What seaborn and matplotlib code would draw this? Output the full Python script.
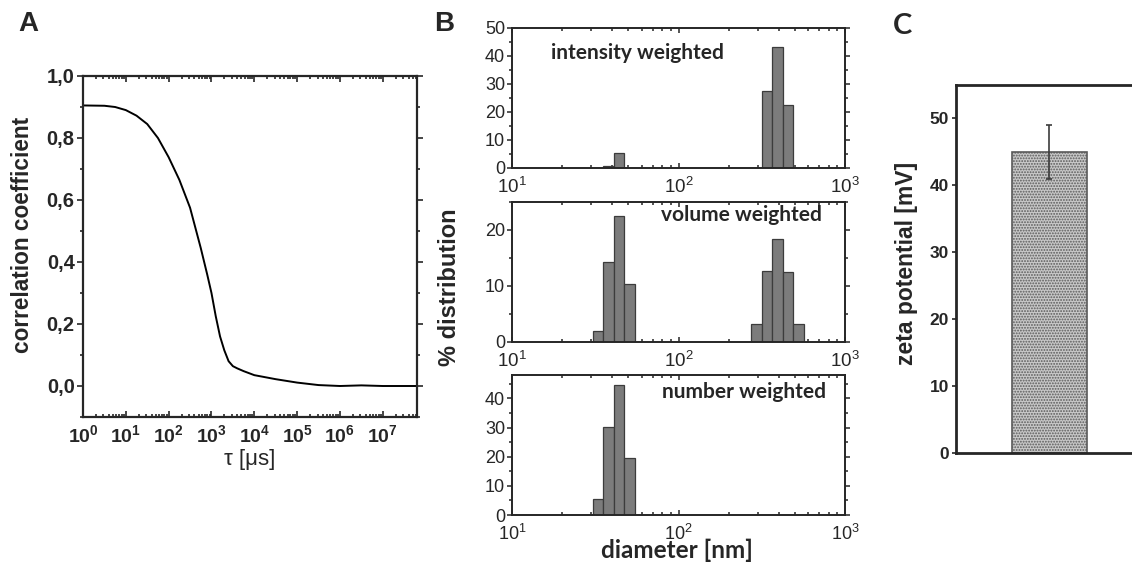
import numpy as np
import pandas as pd
import matplotlib
matplotlib.use("Agg")
import matplotlib.pyplot as plt
import matplotlib.ticker as mticker
import seaborn as sns

# ---- A: correlation function (lag time as decade exponent, coefficient) ----
log_tau_us = [0, 0.5, 0.75, 1.0, 1.25, 1.5, 1.75, 2.0, 2.25, 2.5, 2.75, 2.9, 3.0, 3.1,
              3.2, 3.3, 3.4, 3.5, 3.6, 3.75, 4.0, 4.5, 5.0, 5.5, 6.0, 6.5, 7.0, 7.8]
corr = [0.905, 0.904, 0.900, 0.890, 0.872, 0.845, 0.800, 0.738, 0.665, 0.575, 0.445,
        0.360, 0.300, 0.225, 0.160, 0.115, 0.080, 0.064, 0.057, 0.048, 0.035, 0.022,
        0.011, 0.003, 0.0, 0.002, 0.0, 0.0]
tau_us = [10 ** e for e in log_tau_us]

# ---- B: size distributions (bin centers in nm, % per bin) ----
diam_nm = [32.8, 38.0, 43.9, 50.8, 294, 340, 394, 456, 527]
intensity_pct = [0, 0.6, 5.4, 0, 0, 27.6, 43.1, 22.6, 0]
volume_pct = [1.9, 14.2, 22.5, 10.4, 3.3, 12.7, 18.4, 12.5, 3.3]
number_pct = [5.4, 30.3, 44.6, 19.6, 0, 0, 0, 0, 0]
# log10 bin edges of the instrument
bin_edges_log = [float(v) for v in np.arange(1.4205, 2.80, 0.0635)]

# ---- C: zeta potential ----
samples = ["NP"]
zeta_mv = [45.0]
zeta_err = [4.0]

sns.set_theme(style="ticks")
plt.rcParams['font.family'] = ['Liberation Sans', 'DejaVu Sans']
plt.rcParams['mathtext.fontset'] = 'custom'
plt.rcParams['mathtext.rm'] = 'Liberation Sans'
plt.rcParams['mathtext.bf'] = 'Liberation Sans:bold'
plt.rcParams['hatch.linewidth'] = 0.9

W, H = 1132, 564
fig = plt.figure(figsize=(W / 100, H / 100), dpi=100)


def px_axes(left, top, right, bottom):
    return fig.add_axes([left / W, 1 - bottom / H, (right - left) / W, (bottom - top) / H])


# ---------------- Panel A ----------------
axA = px_axes(83, 76, 417, 417)
sns.lineplot(x=tau_us, y=corr, ax=axA, color='black', lw=1.4, sort=True)
axA.set_xscale('log')
axA.set_xlim(1, 6.3e7)
axA.set_ylim(-0.1, 1.0)
axA.xaxis.set_major_locator(mticker.LogLocator(base=10, numticks=20))
axA.xaxis.set_minor_locator(mticker.LogLocator(base=10, subs=np.arange(2, 10), numticks=20))
axA.xaxis.set_minor_formatter(mticker.NullFormatter())
axA.xaxis.set_major_formatter(mticker.FuncFormatter(
    lambda v, p: r'$\mathbf{10^{%d}}$' % round(np.log10(v)) if v <= 1.5e7 else ''))
axA.yaxis.set_major_locator(mticker.FixedLocator([0, 0.2, 0.4, 0.6, 0.8, 1.0]))
axA.yaxis.set_minor_locator(mticker.MultipleLocator(0.1))
axA.yaxis.set_major_formatter(mticker.FuncFormatter(lambda v, p: f'{v:.1f}'.replace('.', ',')))
axA.tick_params(which='both', direction='in', top=True, right=True, width=1.2)
axA.tick_params(axis='y', which='both', direction='out')
axA.tick_params(which='major', length=4)
axA.tick_params(which='minor', length=2)
axA.tick_params(axis='x', pad=5, labelsize=14)
axA.tick_params(axis='y', labelsize=14.5, pad=2)
for lab in axA.get_yticklabels():
    lab.set_fontweight('bold')
for s in axA.spines.values():
    s.set_linewidth(1.6)
axA.set_xlabel('')
axA.set_ylabel('')
fig.text(250 / W, 1 - 460 / H, 'τ [μs]', ha='center', va='center', fontsize=16)
fig.text(23 / W, 1 - 235 / H, 'correlation coefficient', rotation=90, ha='center',
         va='center', fontsize=16.3, fontweight='bold')
fig.text(28 / W, 1 - 24 / H, 'A', ha='center', va='center', fontsize=20, fontweight='bold')

# ---------------- Panel B ----------------
b_specs = [
    (28, 168, intensity_pct, 'intensity weighted', (0, 50), [0, 10, 20, 30, 40, 50], 5,
     (0.117, 0.82, 'left'), 13.5),
    (202, 342, volume_pct, 'volume weighted', (0, 25), [0, 10, 20], 5,
     (0.93, 0.907, 'right'), 13.5),
    (375, 515, number_pct, 'number weighted', (0, 48), [0, 10, 20, 30, 40], 5,
     (0.943, 0.879, 'right'), 13),
]
for top, bottom, pct, title, ylim, yt, ymin, (tx, ty, tha), xsize in b_specs:
    ax = px_axes(512, top, 845, bottom)
    df = pd.DataFrame({'diameter': diam_nm, 'pct': pct})
    sns.histplot(data=df, x='diameter', weights='pct', bins=bin_edges_log, log_scale=True,
                 ax=ax, color='#7c7c7c', edgecolor='#3c3c3c', linewidth=0.9, alpha=1)
    ax.set_xlim(10, 1000)
    ax.set_ylim(*ylim)
    ax.set_yticks(yt)
    ax.yaxis.set_minor_locator(mticker.MultipleLocator(ymin))
    ax.xaxis.set_major_locator(mticker.LogLocator(base=10, numticks=5))
    ax.xaxis.set_minor_locator(mticker.LogLocator(base=10, subs=np.arange(2, 10), numticks=10))
    ax.xaxis.set_minor_formatter(mticker.NullFormatter())
    ax.tick_params(which='both', direction='in', top=True, right=True, width=1.1)
    ax.tick_params(axis='y', which='both', direction='out')
    ax.tick_params(which='major', length=3.5)
    ax.tick_params(which='minor', length=2)
    ax.tick_params(axis='x', labelsize=xsize, pad=6.5)
    ax.tick_params(axis='y', labelsize=13, pad=1.5)
    ax.set_xlabel('')
    ax.set_ylabel('')
    for s in ax.spines.values():
        s.set_linewidth(1.4)
    ax.text(tx, ty, title, transform=ax.transAxes, ha=tha, va='center', fontsize=15,
            fontweight='bold', family=['Lato', 'DejaVu Sans'])

fig.text(450 / W, 1 - 287 / H, '% distribution', rotation=90, ha='center', va='center',
         fontsize=17, fontweight='bold')
fig.text(677 / W, 1 - 558 / H, 'diameter [nm]', ha='center', va='baseline', fontsize=17.5,
         fontweight='bold', family=['Lato', 'DejaVu Sans'])
fig.text(444 / W, 1 - 24 / H, 'B', ha='center', va='center', fontsize=20, fontweight='bold')

# ---------------- Panel C ----------------
axC = px_axes(956, 85, 1140, 453)
dfc = pd.DataFrame({'sample': samples, 'zeta': zeta_mv})
sns.barplot(data=dfc, x='sample', y='zeta', ax=axC, color='#c8c8c8', width=0.408,
            edgecolor='#5a5a5a', linewidth=1.2, hatch='......', errorbar=None)
axC.errorbar(x=range(len(samples)), y=zeta_mv, yerr=zeta_err, fmt='none',
             ecolor='#3c3c3c', elinewidth=1.2, capsize=2, capthick=1.2)
axC.set_xlim(-0.508, 0.492)
axC.set_ylim(0, 55)
axC.set_yticks([0, 10, 20, 30, 40, 50])
axC.set_xticks([])
axC.tick_params(axis='y', direction='out', length=3, width=1.2, labelsize=12.5, pad=2)
for lab in axC.get_yticklabels():
    lab.set_fontweight('bold')
axC.set_xlabel('')
axC.set_ylabel('')
for s in axC.spines.values():
    s.set_linewidth(2.0)
fig.text(907 / W, 1 - 263 / H, 'zeta potential [mV]', rotation=90, ha='center',
         va='center', fontsize=16.5, fontweight='bold')
fig.text(902 / W, 1 - 26 / H, 'C', ha='center', va='center', fontsize=21,
         fontweight='bold', family=['Lato', 'DejaVu Sans'])

fig.savefig('out.png', dpi=100)
